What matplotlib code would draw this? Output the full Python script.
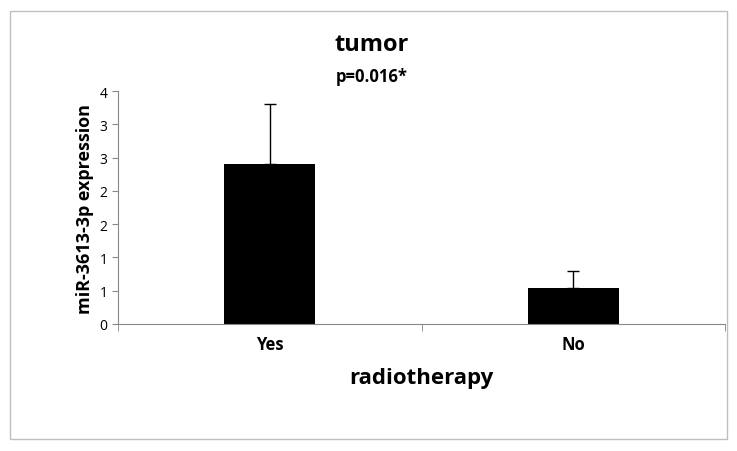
import matplotlib
matplotlib.use("Agg")
import matplotlib.pyplot as plt
from matplotlib.patches import Rectangle

categories = ["Yes", "No"]
values = [2.41, 0.54]
errors = [0.90, 0.26]
yticks = [0, 0.5, 1, 1.5, 2, 2.5, 3, 3.5]
ytick_labels = ["0", "1", "1", "2", "2", "3", "3", "4"]

plt.rcParams["font.family"] = "Open Sans"
fig = plt.figure(figsize=(7.37, 4.52), dpi=100)
fig.patches.append(Rectangle((10/737, 12/452), 717/737, 428/452, transform=fig.transFigure,
                             fill=False, edgecolor="#bfbfbf", lw=1))
ax = fig.add_axes([118/737, 1-325/452, 607/737, 233/452])
x = [0, 1]
ax.bar(x, values, width=0.30, color="black")
ax.errorbar(x, values, yerr=[[0, 0], errors], fmt="none", ecolor="black", capsize=4, lw=1)
ax.set_xlim(-0.5, 1.5)
ax.set_ylim(0, 3.5)
ax.set_yticks(yticks)
ax.set_yticklabels(ytick_labels, fontsize=10)
ax.set_xticks(x)
ax.set_xticklabels(categories, fontsize=12, fontweight="bold")
ax.set_xticks([-0.5, 0.5, 1.5], minor=True)
ax.tick_params(axis="x", which="major", length=0, pad=8)
ax.tick_params(axis="x", which="minor", length=5, direction="out", color="#888")
ax.tick_params(axis="y", length=4, color="#888")
for s in ["top", "right"]:
    ax.spines[s].set_visible(False)
for s in ["left", "bottom"]:
    ax.spines[s].set_color("#888")
ax.set_ylabel("miR-3613-3p expression", fontsize=13, fontweight="bold")
ax.set_xlabel("radiotherapy", fontsize=16, fontweight="bold", labelpad=10)
fig.text(372/737, 1-45/452, "tumor", ha="center", va="center", fontsize=17, fontweight="bold")
fig.text(372/737, 1-77/452, "p=0.016*", ha="center", va="center", fontsize=12, fontweight="bold")
fig.savefig("out.png", dpi=100)
